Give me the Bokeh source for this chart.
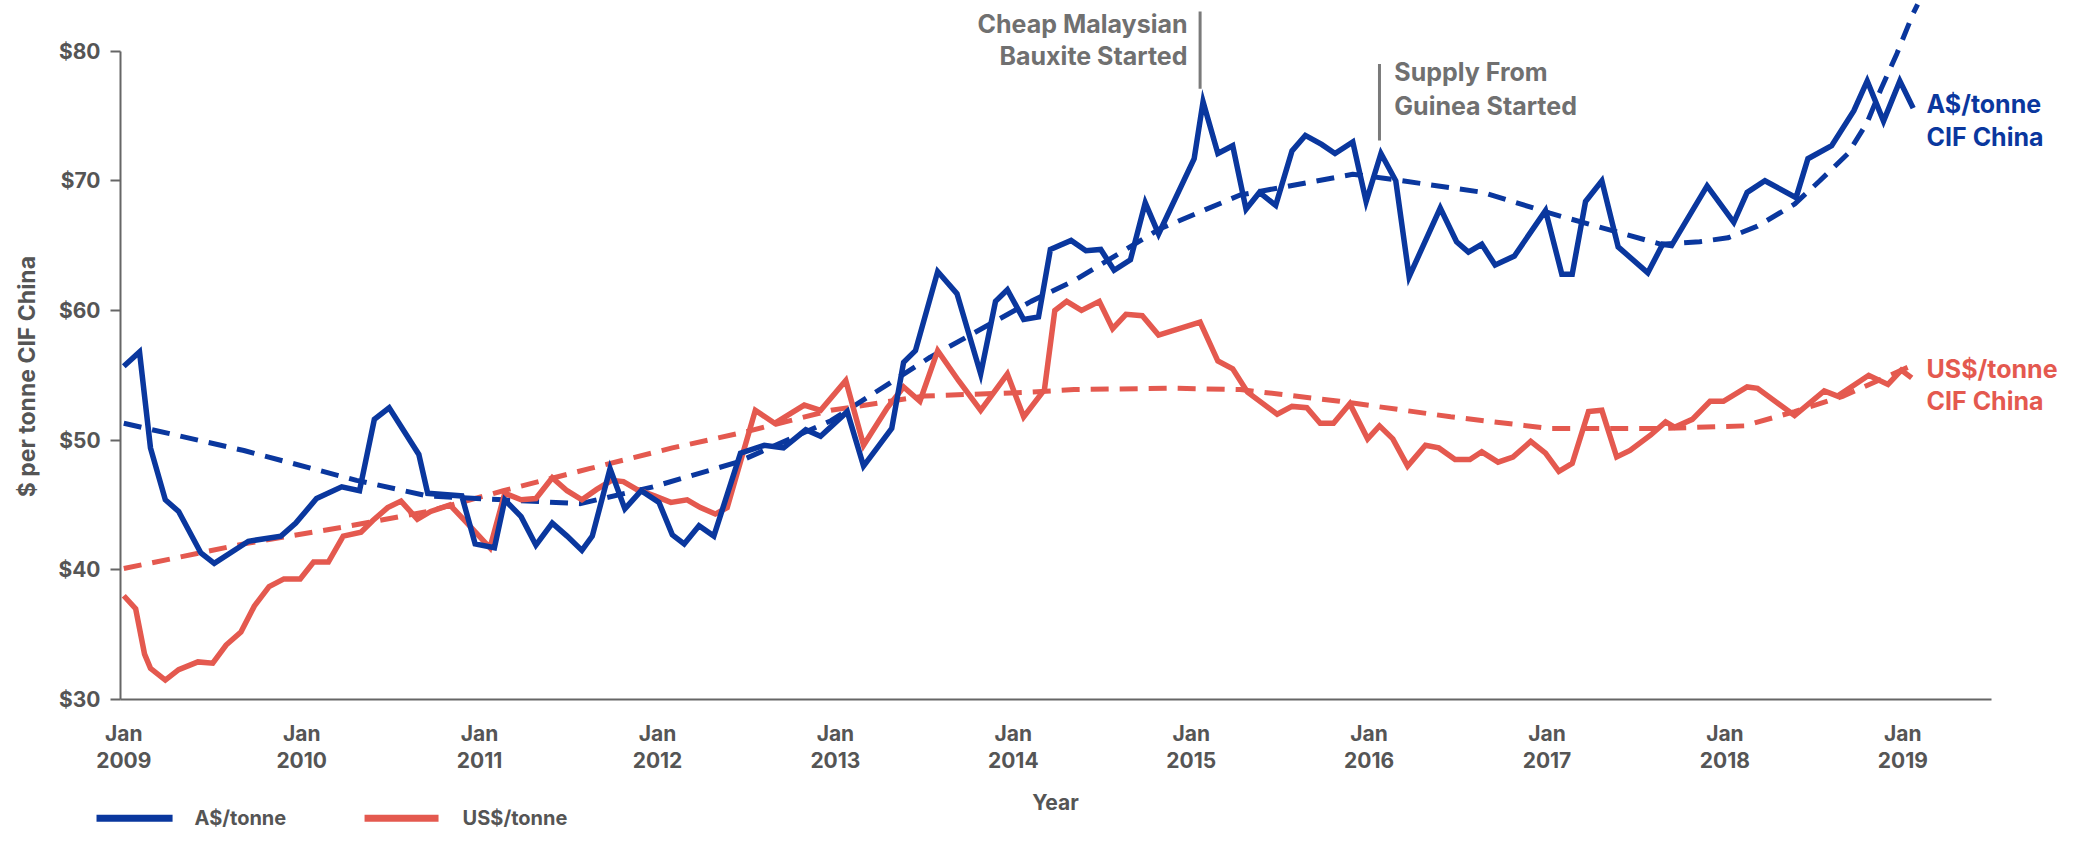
import math
from bokeh.plotting import figure
from bokeh.models import FixedTicker, Label, Range1d
from bokeh.embed import file_html
from bokeh.resources import INLINE
from bokeh.core.properties import value

# ---------------- data (months since Jan 2009, price) ----------------
aud_month = [0.0, 1.06, 1.8, 2.8, 3.7, 5.2, 6.1, 8.4, 10.6, 11.6, 13.0, 14.7, 15.9, 16.9, 17.9,
             19.9, 20.5, 22.8, 23.7, 25.0, 25.7, 26.8, 27.8, 28.9, 29.9, 30.9, 31.6, 32.8, 33.8,
             34.9, 36.1, 37.0, 37.8, 38.8, 39.8, 41.6, 43.2, 44.5, 46.0, 47.0, 48.8, 49.9, 51.8,
             52.6, 53.4, 54.9, 56.2, 57.8, 58.8, 59.6, 60.7, 61.7, 62.5, 63.9, 64.9, 65.9, 66.8,
             67.9, 68.9, 69.8, 72.2, 72.8, 73.8, 74.8, 75.7, 76.6, 77.7, 78.8, 79.7, 80.8, 81.7,
             82.9, 83.8, 84.8, 85.8, 86.7, 88.8, 89.9, 90.7, 91.6, 92.5, 93.8, 95.9, 97.0, 97.7,
             98.6, 99.7, 100.8, 102.8, 103.8, 104.4, 106.8, 108.6, 109.5, 110.7, 112.8, 113.6,
             115.2, 116.7, 117.6, 118.7, 119.8, 120.7]
aud_price = [55.7, 56.8, 49.4, 45.4, 44.5, 41.3, 40.5, 42.2, 42.6, 43.6, 45.5, 46.4, 46.1, 51.6, 52.5,
             48.9, 45.9, 45.7, 42.0, 41.7, 45.4, 44.1, 41.9, 43.6, 42.6, 41.5, 42.6, 47.8, 44.7,
             46.1, 45.2, 42.7, 42.0, 43.4, 42.6, 49.0, 49.6, 49.4, 50.8, 50.3, 52.2, 48.0, 50.9,
             56.0, 56.9, 63.0, 61.3, 55.1, 60.7, 61.6, 59.3, 59.5, 64.7, 65.4, 64.6, 64.7, 63.1,
             63.9, 68.3, 65.9, 71.7, 76.1, 72.1, 72.7, 67.8, 69.1, 68.1, 72.3, 73.5, 72.8, 72.1,
             73.0, 68.4, 72.1, 70.0, 62.6, 67.9, 65.3, 64.5, 65.1, 63.5, 64.2, 67.7, 62.8, 62.8,
             68.4, 70.0, 64.9, 62.9, 65.1, 65.0, 69.6, 66.8, 69.1, 70.0, 68.7, 71.7,
             72.7, 75.4, 77.7, 74.6, 77.7, 75.6]

usd_month = [0.0, 0.8, 1.4, 1.8, 2.8, 3.7, 5.0, 6.0, 6.9, 7.9, 8.8, 9.8, 10.8, 11.9, 12.8, 13.8,
             14.8, 16.0, 16.8, 17.8, 18.7, 19.8, 20.7, 22.0, 23.0, 24.7, 25.7, 26.8, 27.8, 28.9,
             29.9, 30.9, 31.9, 32.9, 33.7, 34.6, 35.8, 36.9, 38.0, 38.9, 39.9, 40.7, 42.6, 43.9,
             45.9, 47.0, 48.7, 49.9, 51.5, 52.6, 53.7, 54.9, 56.3, 57.8, 59.6, 60.7, 62.1, 62.8,
             63.6, 64.6, 65.8, 66.7, 67.6, 68.7, 69.8, 72.6, 73.8, 74.8, 75.8, 77.8, 78.8, 79.8,
             80.7, 81.6, 82.7, 83.9, 84.7, 85.6, 86.6, 87.8, 88.7, 89.8, 90.8, 91.6, 92.7, 93.7,
             94.9, 95.9, 96.8, 97.7, 98.8, 99.7, 100.7, 101.6, 103.0, 104.0, 104.6, 105.8, 107.0,
             107.9, 109.5, 110.2, 112.7, 114.7, 115.6, 117.7, 119.0, 119.9, 120.6]
usd_price = [38.0, 37.0, 33.5, 32.4, 31.5, 32.3, 32.9, 32.8, 34.2, 35.2, 37.2, 38.7, 39.3, 39.3, 40.6, 40.6,
             42.6, 42.9, 43.8, 44.8, 45.3, 43.9, 44.5, 45.0, 43.8, 41.7, 45.9, 45.4, 45.5, 47.1,
             46.1, 45.4, 46.2, 46.9, 46.8, 46.2, 45.7, 45.2, 45.4, 44.8, 44.3, 44.8, 52.3, 51.3,
             52.7, 52.3, 54.6, 49.6, 52.5, 54.1, 53.0, 56.9, 54.6, 52.3, 55.1, 51.8, 53.9, 60.0,
             60.7, 60.0, 60.7, 58.6, 59.7, 59.6, 58.1, 59.1, 56.1, 55.5, 53.7, 52.0, 52.6, 52.5,
             51.3, 51.3, 52.8, 50.1, 51.1, 50.1, 48.0, 49.6, 49.4, 48.5, 48.5, 49.1, 48.3, 48.7,
             49.9, 49.0, 47.6, 48.2, 52.2, 52.3, 48.7, 49.2, 50.4, 51.4, 51.0, 51.6, 53.0,
             53.0, 54.1, 54.0, 51.9, 53.8, 53.4, 55.0, 54.3, 55.4, 54.8]

aud_trend_month = [0.0, 8.1, 15.7, 20.5, 25.6, 30.8, 35.7, 41.4, 47.7, 54.4, 61.2, 64.1, 69.9, 75.3,
                   82.9, 85.0, 91.7, 96.2, 103.7, 106.3, 108.2, 110.2, 112.7, 114.4, 116.3, 117.6,
                   118.5, 119.6, 120.7, 121.0]
aud_trend = [51.3, 49.2, 46.9, 45.7, 45.4, 45.1, 46.4, 48.3, 51.5, 56.4, 60.7, 62.3, 66.3, 68.9,
             70.5, 70.2, 69.1, 67.5, 65.1, 65.3, 65.6, 66.5, 68.2, 70.0, 72.1, 74.5,
             77.0, 79.8, 82.9, 83.6]

usd_trend_month = [0.0, 8.1, 14.8, 20.5, 25.6, 31.4, 37.0, 41.8, 47.7, 54.0, 61.2, 64.1, 70.9, 75.3,
                   82.0, 89.5, 96.2, 103.7, 109.3, 112.7, 116.0, 120.5]
usd_trend = [40.1, 42.0, 43.3, 44.5, 46.1, 47.8, 49.4, 50.6, 52.3, 53.4, 53.7, 53.9, 54.0, 53.9,
             53.0, 51.8, 50.9, 50.9, 51.1, 52.2, 53.4, 55.7]

tick_months = [0, 12, 24, 36, 48, 60, 72, 84, 96, 108, 120]
tick_labels = ["Jan\n2009", "Jan\n2010", "Jan\n2011", "Jan\n2012", "Jan\n2013", "Jan\n2014",
               "Jan\n2015", "Jan\n2016", "Jan\n2017", "Jan\n2018", "Jan\n2019"]
y_ticks = [30, 40, 50, 60, 70, 80]

event_month = [72.6, 84.7]
event_top = [83.05, 79.0]
event_bottom = [77.1, 73.1]
event_text = [["Cheap Malaysian", "Bauxite Started"], ["Supply From", "Guinea Started"]]

series_names = ["A$/tonne", "US$/tonne"]

# ---------------- style ----------------
BLUE = "#0a379e"
RED = "#e4594f"
AXIS = "#666666"
TXT = "#555555"
ANN = "#707070"
FONT = "Inter"

X0, X1 = -0.22, 126.0          # extent of the drawn x axis (months)
Y0, Y1 = 30, 80                # extent of the drawn y axis

# the frame fills the whole canvas; axes are pinned at fixed data locations
p = figure(width=2059, height=830, output_backend="svg", toolbar_location=None,
           x_range=Range1d(-8.317, 130.57), y_range=Range1d(19.90, 83.9),
           min_border_left=0, min_border_right=0, min_border_top=0, min_border_bottom=0)
p.outline_line_color = None
p.xgrid.visible = False
p.ygrid.visible = False

dash = "18 11"
p.line(usd_trend_month, usd_trend, line_color=RED, line_width=5, line_dash=dash)
p.line(aud_trend_month, aud_trend, line_color=BLUE, line_width=5, line_dash=dash)
p.line(usd_month, usd_price, line_color=RED, line_width=5.5, line_join="miter")
p.line(aud_month, aud_price, line_color=BLUE, line_width=5.5, line_join="miter")

# event markers
p.segment(x0=event_month, y0=event_top, x1=event_month, y1=event_bottom,
          line_color="#7a7a7a", line_width=3)

# axes
xa = p.xaxis[0]
xa.fixed_location = Y0
xa.bounds = (X0, X1)
xa.ticker = FixedTicker(ticks=tick_months)
xa.major_label_overrides = {m: t for m, t in zip(tick_months, tick_labels)}
xa.major_tick_out = 0
xa.major_tick_in = 0
xa.minor_tick_out = 0
xa.minor_tick_in = 0
xa.axis_line_color = AXIS
xa.axis_line_width = 2
xa.major_label_text_font = FONT
xa.major_label_text_font_style = "bold"
xa.major_label_text_font_size = "21px"
xa.major_label_text_color = TXT
xa.major_label_text_line_height = 1.1
xa.major_label_standoff = 21

ya = p.yaxis[0]
ya.fixed_location = X0
ya.bounds = (Y0, Y1)
ya.ticker = FixedTicker(ticks=y_ticks)
ya.major_label_overrides = {v: "$%d" % v for v in y_ticks}
ya.major_tick_out = 10
ya.major_tick_in = 0
ya.minor_tick_out = 0
ya.minor_tick_in = 0
ya.major_tick_line_color = AXIS
ya.major_tick_line_width = 2
ya.axis_line_color = AXIS
ya.axis_line_width = 2
ya.major_label_text_font = FONT
ya.major_label_text_font_style = "bold"
ya.major_label_text_font_size = "21px"
ya.major_label_text_color = TXT
ya.major_label_standoff = 10


def add_label(x, y, text, color, align, size="25px", angle=0.0):
    p.add_layout(Label(x=x, y=y, text=text, text_color=color, text_align=align,
                       text_baseline="middle", text_font=FONT, text_font_style="bold",
                       text_font_size=size, angle=angle))


# axis titles
add_label(62.85, 22.06, "Year", TXT, "center", size="21px")
add_label(-6.5, 54.9, "$ per tonne CIF China", TXT, "center", size="23px", angle=math.pi / 2)

# event texts
add_label(event_month[0] - 0.85, event_top[0] - 0.95, event_text[0][0], ANN, "right")
add_label(event_month[0] - 0.85, event_top[0] - 3.4, event_text[0][1], ANN, "right")
add_label(event_month[1] + 1.0, event_top[1] - 0.65, event_text[1][0], ANN, "left")
add_label(event_month[1] + 1.0, event_top[1] - 3.2, event_text[1][1], ANN, "left")

# series end labels
add_label(121.6, 75.9, series_names[0], BLUE, "left")
add_label(121.6, 73.4, "CIF China", BLUE, "left")
add_label(121.6, 55.5, series_names[1], RED, "left")
add_label(121.6, 53.0, "CIF China", RED, "left")

# legend (below the axis, bottom-left)
leg_y = 20.85
sample_x0 = [-1.84, 16.24]
sample_x1 = [3.29, 21.23]
text_x = [4.77, 22.85]
p.segment(x0=sample_x0, y0=[leg_y, leg_y], x1=sample_x1, y1=[leg_y, leg_y],
          line_color=[BLUE, RED], line_width=7)
p.text(x=text_x, y=[leg_y, leg_y], text=series_names, text_color=TXT,
       text_font=value(FONT), text_font_style="bold", text_font_size="20px",
       text_baseline="middle", text_align="left")

open("out.html", "w").write(file_html(p, INLINE))
